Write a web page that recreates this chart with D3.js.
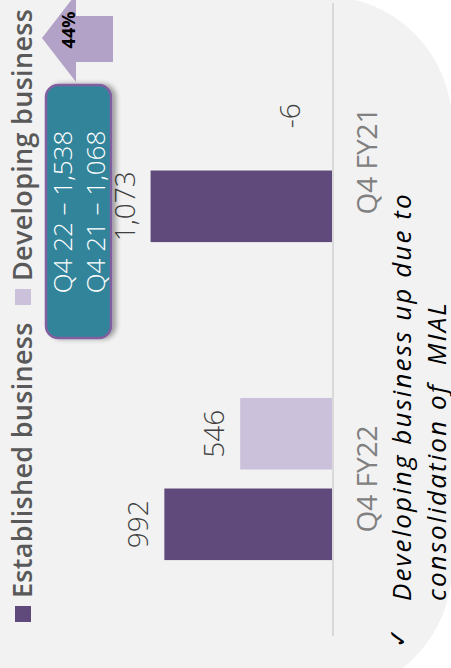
<!DOCTYPE html>
<html>
<head>
<meta charset="utf-8">
<script src="https://cdn.jsdelivr.net/npm/d3@7.9.0/dist/d3.min.js"></script>
<style>
  html, body { margin: 0; padding: 0; background: #fff; }
  svg { display: block; }
</style>
</head>
<body>
<svg id="chart"></svg>
<script>
const categories = ['Q4 FY22', 'Q4 FY21'];
const seriesNames = ['Established business', 'Developing business'];
const established = [992, 1073];
const developing = [546, -6];
const calloutLines = ['Q4 22 \u2013 1,538', 'Q4 21 \u2013 1,068'];
const growthLabel = '44%';
const noteLines = ['Developing business up due to', 'consolidation of  MIAL'];

const W = 451, H = 668;
const colors = { 'Established business': '#604a7b', 'Developing business': '#ccc1da' };
const fmt = d3.formatLocale({ decimal: '.', thousands: ',', grouping: [3], currency: ['', ''], minus: '-' }).format(',');

const svg = d3.select('#chart').attr('width', W).attr('height', H);

// grey slide panel with rounded right corners
svg.append('rect')
  .attr('x', -200).attr('y', -4)
  .attr('width', 652).attr('height', 699)
  .attr('rx', 128).attr('ry', 128)
  .attr('fill', '#f2f2f2');

const defs = svg.append('defs');
const shadow = defs.append('filter').attr('id', 'shadow')
  .attr('x', '-20%').attr('y', '-20%').attr('width', '140%').attr('height', '160%');
shadow.append('feDropShadow')
  .attr('dx', 0).attr('dy', 4).attr('stdDeviation', 2.5)
  .attr('flood-color', '#000').attr('flood-opacity', 0.35);

// the whole chart is turned a quarter turn counter-clockwise
const g = svg.append('g').attr('transform', `translate(0,${H}) rotate(-90)`);

const data = categories.map((c, i) => ({
  category: c,
  values: [
    { key: seriesNames[0], value: established[i] },
    { key: seriesNames[1], value: developing[i] },
  ],
}));

const x0 = d3.scaleBand().domain(categories).range([30, 666])
  .paddingInner(0.49).paddingOuter(0.245);
const x1 = d3.scaleBand().domain(seriesNames).range([0, x0.bandwidth()]).paddingInner(0.21);
const y = d3.scaleLinear().domain([0, 1200]).range([333, 129]);

// bars
const groups = g.selectAll('g.cat').data(data).join('g')
  .attr('class', 'cat')
  .attr('transform', (d) => `translate(${x0(d.category)},0)`);

groups.selectAll('rect').data((d) => d.values).join('rect')
  .attr('x', (d) => x1(d.key))
  .attr('width', x1.bandwidth())
  .attr('y', (d) => y(Math.max(0, d.value)))
  .attr('height', (d) => Math.abs(y(d.value) - y(0)))
  .attr('fill', (d) => colors[d.key]);

groups.selectAll('text.val').data((d) => d.values).join('text')
  .attr('class', 'val')
  .attr('x', (d) => x1(d.key) + x1.bandwidth() / 2)
  .attr('y', (d) => (d.value < 0 ? y(0) - 33 : y(d.value) - 16))
  .attr('text-anchor', 'middle')
  .attr('font-family', 'Open Sans')
  .attr('font-weight', 300)
  .attr('font-size', 28)
  .attr('fill', '#404040')
  .text((d) => fmt(d.value));

// baseline axis
const xAxis = d3.axisBottom(x0).tickSize(0).tickPadding(24);
const axisG = g.append('g').attr('transform', `translate(0,${y(0)})`).call(xAxis);
axisG.select('.domain').attr('stroke', '#d9d9d9').attr('stroke-width', 2)
  .attr('d', `M32,0H665`);
axisG.selectAll('.tick text')
  .attr('font-family', 'Open Sans')
  .attr('font-weight', 400)
  .attr('font-size', 28)
  .attr('fill', '#808080');

// legend
const legend = g.append('g').attr('transform', 'translate(46,15)');
seriesNames.forEach((name, i) => {
  const item = legend.append('g').attr('transform', `translate(${i * 317},0)`);
  item.append('rect').attr('width', 16).attr('height', 16).attr('fill', colors[name]);
  item.append('text')
    .attr('x', 24).attr('y', 17)
    .attr('font-family', 'Open Sans')
    .attr('font-weight', 600)
    .attr('font-size', 27)
    .attr('letter-spacing', 0.3)
    .attr('fill', '#595959')
    .text(name);
});

// callout box
const box = g.append('g');
box.append('rect')
  .attr('x', 330).attr('y', 46).attr('width', 253).attr('height', 65)
  .attr('rx', 12).attr('ry', 12)
  .attr('fill', '#31849b').attr('stroke', '#7f5fa0').attr('stroke-width', 2.5)
  .attr('filter', 'url(#shadow)');
box.selectAll('text').data(calloutLines).join('text')
  .attr('x', 456)
  .attr('y', (d, i) => 72 + i * 33)
  .attr('text-anchor', 'middle')
  .attr('font-family', 'Open Sans')
  .attr('font-weight', 300)
  .attr('font-size', 26)
  .attr('fill', '#ffffff')
  .style('white-space', 'pre')
  .text((d) => d);

// growth arrow
const arrow = g.append('g');
arrow.append('path')
  .attr('d', 'M630,42 L674,76 L652,76 L652,113 L606,113 L606,76 L586,76 Z')
  .attr('fill', '#b3a2c7');
arrow.append('text')
  .attr('x', 638).attr('y', 75)
  .attr('text-anchor', 'middle')
  .attr('font-family', 'Open Sans')
  .attr('font-weight', 700)
  .attr('font-size', 18)
  .attr('fill', '#000')
  .text(growthLabel);

// note
g.append('text')
  .attr('x', 20).attr('y', 406)
  .attr('font-family', 'DejaVu Sans')
  .attr('font-size', 24)
  .attr('fill', '#000')
  .text('\u2713');
g.selectAll('text.note').data(noteLines).join('text')
  .attr('class', 'note')
  .attr('x', 67)
  .attr('y', (d, i) => 411 + i * 35)
  .attr('font-family', 'Open Sans')
  .attr('font-style', 'italic')
  .attr('font-size', 26)
  .attr('letter-spacing', 2.1)
  .attr('fill', '#000')
  .style('white-space', 'pre')
  .text((d) => d);
</script>
</body>
</html>
